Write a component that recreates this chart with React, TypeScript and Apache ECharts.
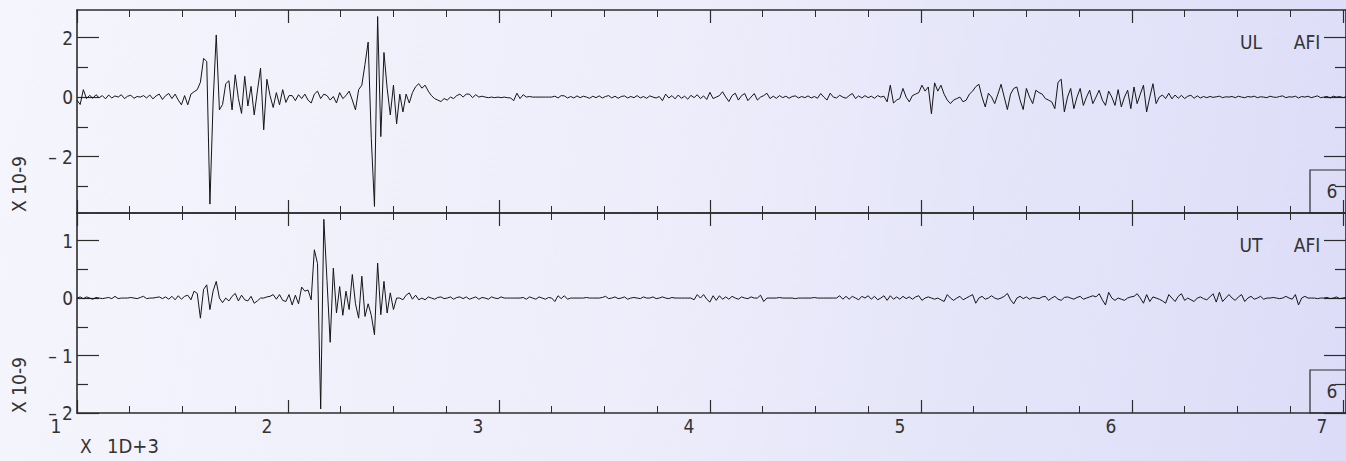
import React, { useEffect, useRef } from "react";
import * as echarts from "echarts";

// ---- data -------------------------------------------------------------
const T0 = 1000; // first sample time
const DT = 15; // sample spacing
const X_MIN = 1000;
const X_MAX = 7015;
const X_LABEL_VALUES = [1000, 2000, 3000, 4000, 5000, 6000, 7000];

const UL_RANGE = [-3.9, 2.93];
const UL_MAJOR = [-2, 0, 2];
const UL_MINOR = [-3, -1, 1];
const UT_RANGE = [-2, 1.48];
const UT_MAJOR = [-2, -1, 0, 1];
const UT_MINOR = [-1.5, -0.5, 0.5];

// UL component (x 10^-9)
const ulAmp = [
  -0.1, -0.25, 0.25, -0.05, 0.06, -0.04, 0.08, -0.02, 0.05, -0.06,
  0.07, -0.03, 0.04, 0.0, 0.08, -0.05, 0.03, 0.06, -0.04, 0.02,
  0.0, 0.05, -0.03, 0.07, -0.06, 0.04, 0.1, -0.08, 0.05, 0.12,
  -0.05, 0.1, -0.1, -0.26, 0.05, -0.26, 0.1, 0.18, 0.25, 0.5,
  1.3, 1.2, -3.6, -0.2, 2.09, -0.43, -0.25, 0.45, 0.55, -0.43,
  0.75, -0.05, -0.55, 0.7, -0.3, 0.36, -0.6, 0.2, 0.97, -1.1,
  0.6, 0.05, -0.35, 0.15, -0.26, 0.25, -0.18, 0.05, 0.05, -0.12,
  0.08, -0.05, 0.1, -0.1, -0.2, 0.1, 0.2, -0.05, 0.1, 0.05,
  -0.1, 0.02, -0.2, 0.15, -0.05, 0.05, 0.2, -0.1, -0.43, 0.25,
  0.4, 1.1, 1.85, -1.4, -3.68, 2.71, -1.33, 1.5, 0.3, -0.6,
  0.4, -0.9, 0.1, -0.5, 0.1, -0.2, 0.15, 0.35, 0.45, 0.3,
  0.4, 0.2, 0.05, -0.05, -0.1, -0.15, -0.05, -0.1, 0.0, -0.05,
  0.05, 0.1, 0.0, 0.1, 0.1, -0.02, 0.08, 0.0, 0.03, 0.0,
  -0.02, 0.0, -0.02, 0.0, -0.02, 0.0, -0.02, -0.03, -0.12, 0.13,
  -0.05, 0.08, 0.0, 0.02, 0.0, 0.0, 0.0, 0.0, 0.0, 0.0,
  0.0, 0.03, -0.03, 0.05, 0.04, -0.03, 0.02, -0.03, 0.04, -0.02,
  0.03, 0.0, -0.04, 0.03, -0.02, 0.04, -0.03, 0.02, 0.05, -0.03,
  0.03, -0.04, 0.02, 0.04, -0.03, 0.02, -0.02, 0.05, -0.03, 0.02,
  -0.04, 0.04, 0.0, -0.03, 0.02, -0.12, 0.1, -0.03, 0.05, -0.06,
  0.07, -0.04, 0.03, -0.07, 0.06, -0.02, 0.08, -0.05, 0.04, -0.08,
  0.16, -0.05, 0.0, 0.05, 0.18, 0.0, -0.15, 0.05, 0.13, -0.1,
  0.05, 0.12, -0.12, 0.0, 0.12, -0.1, 0.0, 0.05, 0.13, -0.05,
  0.03, -0.04, 0.05, -0.02, 0.03, -0.04, 0.02, 0.04, -0.03, 0.02,
  -0.02, 0.04, -0.03, 0.02, -0.04, 0.12, 0.0, -0.1, 0.13, 0.0,
  -0.03, 0.06, 0.0, -0.04, 0.05, 0.12, -0.05, 0.04, -0.03, 0.05,
  -0.02, 0.03, -0.04, 0.05, 0.0, 0.03, -0.16, 0.4, -0.2, -0.1,
  -0.05, 0.29, 0.0, -0.16, 0.05, 0.1, 0.15, 0.4, 0.2, 0.34,
  -0.56, 0.48, 0.2, 0.4, 0.1, -0.1, -0.22, -0.1, -0.05, 0.0,
  -0.16, -0.1, 0.1, 0.2, 0.35, 0.43, 0.0, -0.33, 0.13, 0.0,
  -0.22, 0.1, 0.43, 0.0, -0.42, 0.1, 0.29, 0.34, -0.1, -0.42,
  0.29, 0.0, -0.22, 0.23, 0.15, 0.1, -0.05, -0.1, -0.16, -0.39,
  0.5, 0.6, -0.5, 0.0, 0.29, -0.39, 0.0, 0.29, -0.28, 0.0,
  0.23, -0.22, 0.0, 0.23, -0.1, -0.28, 0.2, 0.0, -0.28, 0.25,
  -0.33, 0.0, 0.23, -0.39, 0.34, -0.22, 0.1, 0.4, -0.5, 0.0,
  0.45, -0.22, 0.0, 0.07, -0.05, 0.13, -0.06, 0.07, -0.04, 0.06,
  -0.05, 0.03, 0.06, -0.04, 0.04, -0.03, 0.02, -0.02, 0.02, -0.01,
  0.01, 0.03, -0.02, 0.01, 0.0, 0.02, -0.02, 0.03, 0.0, -0.02,
  0.02, 0.0, 0.03, -0.02, 0.01, 0.0, -0.02, 0.03, 0.0, -0.01,
  0.02, 0.04, -0.02, 0.01, 0.0, 0.03, -0.03, 0.02, 0.0, 0.03,
  -0.02, 0.01, 0.04, -0.02, 0.0, 0.02, -0.03, 0.03, 0.0, 0.02,
  -0.02, 0.01,
];

// UT component (x 10^-9)
const utAmp = [
  0.0, 0.02, -0.01, 0.02, 0.0, -0.02, 0.01, 0.0, -0.01, 0.0,
  0.01, -0.01, 0.03, -0.01, 0.0, 0.0, 0.0, 0.01, 0.0, -0.01,
  0.01, 0.03, -0.01, 0.0, 0.0, 0.01, 0.02, -0.01, 0.02, -0.02,
  0.03, -0.03, 0.04, -0.02, 0.03, 0.05, -0.03, 0.12, 0.08, -0.35,
  0.15, 0.23, -0.2, 0.12, 0.29, 0.0, -0.08, 0.0, -0.05, 0.03,
  0.08, -0.05, 0.05, -0.03, -0.05, 0.03, -0.09, -0.05, 0.0, 0.0,
  0.02, 0.03, 0.06, -0.02, 0.06, -0.04, -0.06, 0.06, -0.12, 0.05,
  -0.1, 0.19, 0.12, 0.14, -0.03, 0.84, 0.6, -1.93, 1.37, 0.3,
  -0.77, 0.52, -0.26, 0.2, -0.3, 0.12, -0.2, 0.41, -0.1, -0.35,
  0.38, -0.32, -0.1, -0.3, -0.64, 0.61, -0.29, 0.29, -0.26, 0.09,
  -0.2, 0.0, 0.0, -0.03, 0.05, 0.09, -0.02, 0.05, -0.03, 0.0,
  -0.03, 0.02, 0.0, -0.02, 0.01, 0.02, -0.01, 0.0, 0.02, -0.02,
  0.01, 0.02, -0.01, 0.02, -0.02, 0.0, 0.02, -0.02, 0.01, 0.0,
  -0.02, 0.02, 0.0, -0.01, 0.02, 0.0, 0.0, 0.0, 0.0, 0.0,
  0.0, 0.01, -0.02, 0.02, 0.0, -0.02, 0.02, 0.0, -0.02, 0.01,
  0.0, -0.06, 0.04, -0.01, 0.04, -0.02, 0.0, 0.0, 0.0, 0.0,
  0.0, 0.01, 0.0, 0.0, 0.0, 0.0, 0.01, 0.03, -0.01, 0.0,
  0.02, -0.01, 0.0, 0.02, -0.02, 0.0, 0.01, 0.0, -0.01, 0.02,
  0.0, 0.0, 0.02, -0.01, 0.0, 0.02, 0.0, -0.01, 0.01, 0.0,
  0.0, 0.0, 0.0, 0.0, 0.0, -0.03, 0.06, 0.0, 0.06, -0.02,
  -0.07, 0.04, -0.04, 0.04, -0.02, 0.02, -0.02, 0.03, 0.0, -0.02,
  0.02, 0.0, -0.01, 0.02, 0.0, 0.0, 0.05, -0.06, 0.0, 0.0,
  0.0, 0.0, 0.01, 0.0, 0.0, 0.0, 0.0, -0.01, 0.0, 0.0,
  0.0, 0.0, 0.0, 0.01, 0.0, 0.0, 0.0, 0.0, 0.0, 0.0,
  0.0, 0.04, -0.02, 0.03, -0.02, 0.03, 0.0, -0.03, 0.03, 0.0,
  0.04, -0.02, 0.03, -0.03, 0.0, 0.04, -0.04, 0.04, -0.02, 0.02,
  -0.02, 0.03, -0.01, 0.02, -0.02, 0.02, 0.04, -0.04, 0.0, 0.02,
  0.0, -0.02, 0.0, -0.03, -0.06, 0.06, 0.0, -0.04, 0.0, 0.03,
  -0.03, 0.0, 0.03, 0.06, -0.09, 0.0, 0.03, -0.02, 0.0, 0.04,
  0.0, -0.02, 0.0, 0.03, 0.08, -0.03, -0.1, 0.0, 0.03, -0.01,
  0.02, -0.02, 0.01, 0.0, -0.01, 0.02, 0.03, -0.04, 0.0, 0.03,
  -0.02, -0.04, 0.01, 0.02, 0.0, -0.02, 0.01, 0.03, -0.02, 0.0,
  0.02, 0.04, 0.02, 0.075, -0.03, -0.12, 0.1, 0.0, -0.04, 0.0,
  -0.02, -0.04, 0.0, 0.02, 0.03, 0.075, 0.0, -0.09, 0.06, -0.06,
  0.02, 0.0, -0.02, -0.05, -0.09, 0.06, 0.0, -0.06, 0.03, 0.075,
  -0.04, 0.0, -0.03, -0.06, 0.0, 0.02, -0.01, -0.03, 0.02, 0.075,
  -0.07, 0.1, -0.06, 0.0, 0.06, 0.0, -0.04, 0.02, 0.06, -0.06,
  0.0, 0.03, -0.02, 0.0, 0.03, -0.02, 0.0, 0.0, 0.01, 0.0,
  -0.01, 0.0, 0.03, 0.0, -0.02, 0.06, -0.12, 0.0, 0.03, 0.0,
  0.0, 0.0, -0.01, 0.0, 0.0, 0.01, -0.01, 0.0, 0.02, -0.01,
  0.0, 0.01,
];

// ---- styling ----------------------------------------------------------
const AXIS_COLOR = "#2c2c2c";
const TEXT_COLOR = "#333333";
const TRACE_COLOR = "#151515";
const FONT = "'DejaVu Sans Condensed', 'DejaVu Sans', sans-serif";
const FONT_SIZE = 19;
const FONT_WEIGHT = 200;

const toSeries = (amp: number[]) => amp.map((v, i) => [T0 + DT * i, v]);

const signed = (v: number) => (v < 0 ? "\u2013 " + Math.abs(v) : String(v));

function xAxis(gridIndex: number, position: string, showLabels: boolean) {
  return {
    type: "value",
    gridIndex,
    position,
    min: X_MIN,
    max: X_MAX,
    interval: 1000,
    axisLine: { show: true, onZero: false, lineStyle: { color: AXIS_COLOR, width: 1.6 } },
    axisTick: { show: true, inside: true, length: 13, lineStyle: { color: AXIS_COLOR, width: 1.2 } },
    minorTick: { show: true, splitNumber: 4, length: 7, lineStyle: { color: AXIS_COLOR, width: 1 } },
    splitLine: { show: false },
    minorSplitLine: { show: false },
    axisLabel: showLabels
      ? {
          show: true,
          customValues: X_LABEL_VALUES,
          formatter: (v: number) => String(v / 1000),
          color: TEXT_COLOR,
          fontFamily: FONT,
          fontWeight: FONT_WEIGHT,
          fontSize: FONT_SIZE,
          margin: 3,
          align: "center",
          padding: [0, 42, 0, 0],
        }
      : { show: false },
  };
}

function yAxis(
  gridIndex: number,
  position: string,
  range: number[],
  ticks: number[],
  len: number,
  labels: boolean,
  line: boolean
) {
  return {
    type: "value",
    gridIndex,
    position,
    min: range[0],
    max: range[1],
    axisLine: { show: line, onZero: false, lineStyle: { color: AXIS_COLOR, width: 1.6 } },
    axisTick: { show: true, inside: true, length: len, customValues: ticks, lineStyle: { color: AXIS_COLOR, width: 1.2 } },
    splitLine: { show: false },
    axisLabel: labels
      ? {
          show: true,
          customValues: ticks,
          formatter: signed,
          color: TEXT_COLOR,
          fontFamily: FONT,
          fontWeight: FONT_WEIGHT,
          fontSize: FONT_SIZE,
          margin: 4,
        }
      : { show: false },
  };
}

function label(text: string, x: number, y: number, align = "center", rotation = 0, size = FONT_SIZE) {
  return {
    type: "text",
    x,
    y,
    rotation,
    silent: true,
    style: {
      text,
      fill: TEXT_COLOR,
      fontFamily: FONT,
      fontWeight: FONT_WEIGHT,
      fontSize: size,
      align,
      textAlign: align,
      verticalAlign: "middle",
      textVerticalAlign: "middle",
    },
  };
}

function box(y: number) {
  return {
    type: "rect",
    silent: true,
    shape: { x: 1310, y, width: 60, height: 43 },
    style: { fill: "none", stroke: AXIS_COLOR, lineWidth: 1.2 },
  };
}

export default function App() {
  const ref = useRef<HTMLDivElement>(null);

  useEffect(() => {
    if (!ref.current) return;
    const chart = echarts.init(ref.current, undefined, { renderer: "svg" });
    chart.setOption({
      animation: false,
      grid: [
        { left: 77, top: 10, width: 1278, height: 203 },
        { left: 77, top: 213, width: 1278, height: 200 },
      ],
      xAxis: [
        xAxis(0, "bottom", false),
        xAxis(0, "top", false),
        xAxis(1, "bottom", true),
        xAxis(1, "top", false),
      ],
      yAxis: [
        yAxis(0, "left", UL_RANGE, UL_MAJOR, 22, true, true),
        yAxis(0, "left", UL_RANGE, UL_MINOR, 11, false, false),
        yAxis(0, "right", UL_RANGE, UL_MAJOR, 22, false, true),
        yAxis(0, "right", UL_RANGE, UL_MINOR, 11, false, false),
        yAxis(1, "left", UT_RANGE, UT_MAJOR, 22, true, true),
        yAxis(1, "left", UT_RANGE, UT_MINOR, 11, false, false),
        yAxis(1, "right", UT_RANGE, UT_MAJOR, 22, false, true),
        yAxis(1, "right", UT_RANGE, UT_MINOR, 11, false, false),
      ],
      series: [
        {
          type: "line",
          name: "UL",
          xAxisIndex: 0,
          yAxisIndex: 0,
          data: toSeries(ulAmp),
          showSymbol: false,
          symbol: "none",
          silent: true,
          lineStyle: { color: TRACE_COLOR, width: 1 },
        },
        {
          type: "line",
          name: "UT",
          xAxisIndex: 2,
          yAxisIndex: 4,
          data: toSeries(utAmp),
          showSymbol: false,
          symbol: "none",
          silent: true,
          lineStyle: { color: TRACE_COLOR, width: 1 },
        },
      ],
      graphic: [
        label("X 10-9", 19, 212, "left", Math.PI / 2),
        label("X 10-9", 19, 413, "left", Math.PI / 2),
        label("X", 80, 446, "left"),
        label("1D+3", 107, 446, "left", 0, 20),
        label("UL", 1251, 42),
        label("AFI", 1307, 42),
        label("UT", 1251, 245),
        label("AFI", 1307, 245),
        box(170),
        box(370),
        label("6", 1332, 191),
        label("6", 1332, 391),
      ],
    });
    return () => chart.dispose();
  }, []);

  return (
    <div
      ref={ref}
      style={{
        position: "fixed",
        left: 0,
        top: 0,
        width: 1346,
        height: 461,
        background: "linear-gradient(100deg, #f5f5fd 0%, #eeeefb 45%, #dcdcf8 100%)",
      }}
    />
  );
}
